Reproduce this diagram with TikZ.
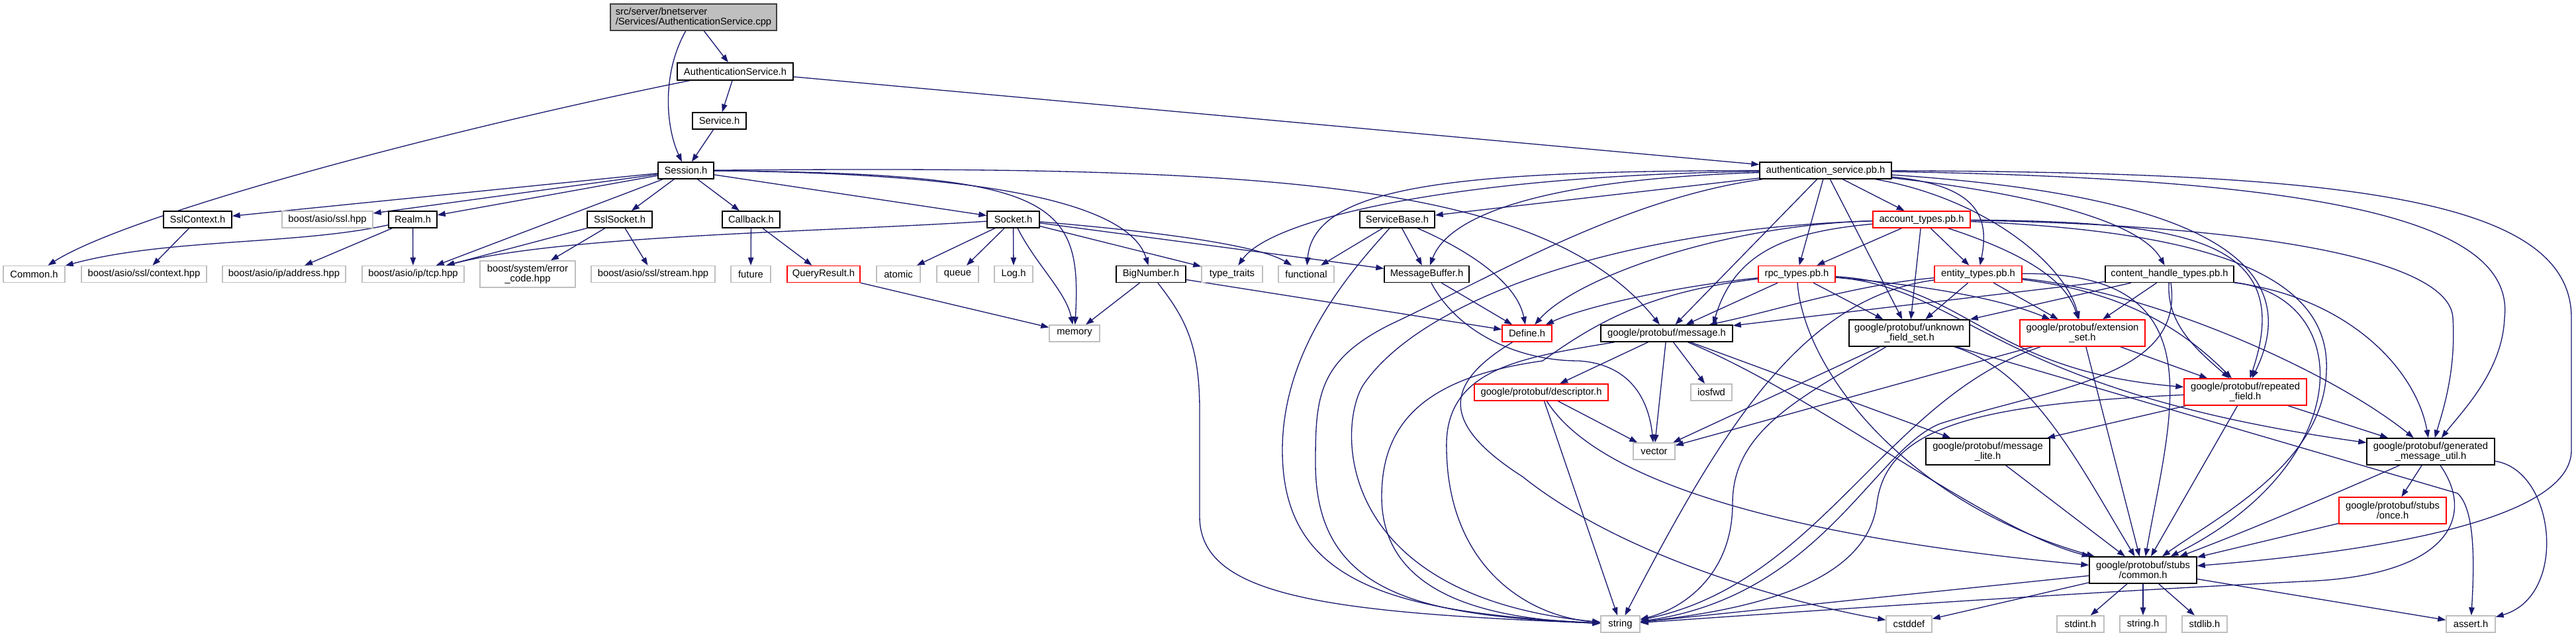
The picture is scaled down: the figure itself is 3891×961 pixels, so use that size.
\documentclass[tikz,border=0pt]{standalone}
\usepackage{fontspec}
\setmainfont{Liberation Sans}
\usetikzlibrary{arrows.meta,calc}
\definecolor{edgec}{HTML}{191970}
\definecolor{grayb}{HTML}{BFBFBF}
\definecolor{rootb}{HTML}{404040}
\newcommand\dxfont{\fontsize{8.4}{8.6}\selectfont}
\pgfdeclarelayer{edgelayer}
\pgfsetlayers{edgelayer,main}
\begin{document}
\begin{tikzpicture}[x=0.02cm,y=-0.02cm,
  box/.style={rectangle,line width=0.8pt,inner sep=0pt,font=\dxfont,align=center,fill=white},
  sz/.style 2 args={minimum width=#1*0.02cm,minimum height=#2*0.02cm},
  nb/.style={box,draw=black},
  nr/.style={box,draw=red},
  ng/.style={box,draw=grayb},
  e/.style={draw=edgec,line width=0.75pt,-{Triangle[length=0.24cm,width=0.17cm]}}]
\useasboundingbox (0,0) rectangle (3891,961);
% ---------- nodes ----------
\node[box,draw=rootb,fill=grayb,align=left,sz={251}{40}] (root) at (1047.5,26) {src/server/bnetserver\\/Services/AuthenticationService.cpp};
\node[nb,sz={175}{26}] (ash) at (1110.5,108) {AuthenticationService.h};
\node[nb,sz={81}{25}] (svc) at (1086.5,182.5) {Service.h};
\node[nb,sz={84}{25}] (ses) at (1036,257.5) {Session.h};
\node[nb,sz={199}{25}] (apb) at (2757.5,257.5) {authentication\_service.pb.h};
\node[nb,sz={103}{25}] (sslctx) at (298.5,331.5) {SslContext.h};
\node[ng,sz={137}{25}] (sslhpp) at (494.5,331.5) {boost/asio/ssl.hpp};
\node[nb,sz={73}{25}] (realm) at (623.5,331.5) {Realm.h};
\node[nb,sz={98}{25}] (sslsock) at (936,331.5) {SslSocket.h};
\node[nb,sz={87}{25}] (cb) at (1134.5,331.5) {Callback.h};
\node[nb,sz={79}{25}] (sock) at (1530.5,331.5) {Socket.h};
\node[nb,sz={113}{25}] (sb) at (2110.5,331.5) {ServiceBase.h};
\node[nr,sz={147}{25}] (acct) at (2902.5,331.5) {account\_types.pb.h};
\node[ng,sz={93}{25}] (common) at (51.5,414) {Common.h};
\node[ng,sz={189}{25}] (ctx) at (217.5,414) {boost/asio/ssl/context.hpp};
\node[ng,sz={186}{25}] (addr) at (429,414) {boost/asio/ip/address.hpp};
\node[ng,sz={154}{25}] (tcp) at (624,414) {boost/asio/ip/tcp.hpp};
\node[ng,sz={144}{40}] (err) at (797,414) {boost/system/error\\\_code.hpp};
\node[ng,sz={187}{25}] (stream) at (986.5,414) {boost/asio/ssl/stream.hpp};
\node[ng,sz={60}{25}] (future) at (1134,414) {future};
\node[nr,sz={110}{25}] (qr) at (1244,414) {QueryResult.h};
\node[ng,sz={66}{25}] (atomic) at (1357,414) {atomic};
\node[ng,sz={63}{25}] (queue) at (1446.5,414) {queue};
\node[ng,sz={58}{25}] (logh) at (1531,414) {Log.h};
\node[nb,sz={105}{25}] (bn) at (1738.5,414) {BigNumber.h};
\node[ng,sz={92}{25}] (tt) at (1861,414) {type\_traits};
\node[ng,sz={84}{25}] (func) at (1973,414) {functional};
\node[nb,sz={128}{25}] (mb) at (2155,414) {MessageBuffer.h};
\node[nr,sz={116}{25}] (rpc) at (2714,414) {rpc\_types.pb.h};
\node[nr,sz={132}{25}] (ent) at (2988,414) {entity\_types.pb.h};
\node[nb,sz={194}{25}] (cht) at (3277,414) {content\_handle\_types.pb.h};
\node[ng,sz={76}{25}] (mem) at (1623,503.5) {memory};
\node[nr,sz={75}{25}] (def) at (2306.5,503.5) {Define.h};
\node[nb,sz={199}{25}] (msg) at (2517.5,503.5) {google/protobuf/message.h};
\node[nb,sz={182}{40}] (ufs) at (2884,503) {google/protobuf/unknown\\\_field\_set.h};
\node[nr,sz={189}{40}] (ext) at (3145.5,503) {google/protobuf/extension\\\_set.h};
\node[nr,sz={202}{25}] (desc) at (2328,592.5) {google/protobuf/descriptor.h};
\node[ng,sz={62}{25}] (iosfwd) at (2585,592.5) {iosfwd};
\node[nr,sz={185}{40}] (rep) at (3391.5,592) {google/protobuf/repeated\\\_field.h};
\node[ng,sz={63}{25}] (vec) at (2498.5,681.5) {vector};
\node[nb,sz={187}{40}] (lite) at (3002.5,682) {google/protobuf/message\\\_lite.h};
\node[nb,sz={193}{40}] (gmu) at (3671.5,682) {google/protobuf/generated\\\_message\_util.h};
\node[nr,sz={162}{40}] (once) at (3614,771) {google/protobuf/stubs\\/once.h};
\node[nb,sz={162}{40}] (com) at (3237,861) {google/protobuf/stubs\\/common.h};
\node[ng,sz={59}{25}] (str) at (2447.5,942.5) {string};
\node[ng,sz={69}{25}] (cstddef) at (2883.5,942.5) {cstddef};
\node[ng,sz={71}{25}] (stdint) at (3142.5,942.5) {stdint.h};
\node[ng,sz={70}{25}] (strh) at (3237,942.5) {string.h};
\node[ng,sz={68}{25}] (stdlib) at (3330,942.5) {stdlib.h};
\node[ng,sz={74}{25}] (assert) at (3732,942.5) {assert.h};
% ---------- edges ----------
\begin{pgfonlayer}{edgelayer}
\fill[white] (0,0) rectangle (3891,961);
\draw[e] (root) -- (ash);
\draw[e] (root) .. controls (1000,110) and (1005,190) .. (ses);
\draw[e] (ash) -- (svc);
\draw[e] (ash) .. controls (700,190) and (200,320) .. (common);
\draw[e] (ash) -- (apb);
\draw[e] (svc) -- (ses);
\draw[e] (ses) -- (sslctx);
\draw[e] (ses) -- (sslhpp);
\draw[e] (ses) -- (realm);
\draw[e] (ses) -- (tcp);
\draw[e] (ses) -- (sslsock);
\draw[e] (ses) -- (cb);
\draw[e] (ses) -- (sock);
\draw[e] (ses) .. controls (1590,262) and (1635,300) .. (mem);
\draw[e] (ses) .. controls (1550,262) and (1710,320) .. (bn);
\draw[e] (ses) .. controls (1900,250) and (2330,270) .. (msg);
\draw[e] (realm) .. controls (450,370) and (250,360) .. (common);
\draw[e] (realm) -- (addr);
\draw[e] (realm) -- (tcp);
\draw[e] (sslctx) -- (ctx);
\draw[e] (sslsock) -- (tcp);
\draw[e] (sslsock) -- (err);
\draw[e] (sslsock) -- (stream);
\draw[e] (cb) -- (future);
\draw[e] (cb) -- (qr);
\draw[e] (qr) -- (mem);
\draw[e] (sock) .. controls (1250,350) and (850,355) .. (tcp);
\draw[e] (sock) -- (atomic);
\draw[e] (sock) -- (queue);
\draw[e] (sock) -- (logh);
\draw[e] (sock) .. controls (1565,400) and (1610,440) .. (mem);
\draw[e] (sock) -- (tt);
\draw[e] (sock) .. controls (1750,350) and (1900,370) .. (func);
\draw[e] (sock) -- (mb);
\draw[e] (bn) -- (mem);
\draw[e] (bn) .. controls (1790,480) and (1812,520) .. (1812,620) -- (1812,780) .. controls (1812,900) and (2000,925) .. (str);
\draw[e] (bn) -- (def);
\draw[e] (sb) -- (func);
\draw[e] (sb) -- (mb);
\draw[e] (sb) .. controls (2050,400) and (1937,520) .. (1937,680) .. controls (1937,880) and (2100,925) .. (str);
\draw[e] (sb) .. controls (2200,370) and (2290,420) .. (def);
\draw[e] (mb) -- (def);
\draw[e] (mb) .. controls (2200,500) and (2290,545) .. (2385,545) .. controls (2460,550) and (2490,600) .. (vec);
\draw[e] (def) .. controls (2180,580) and (2175,640) .. (2300,720) .. controls (2450,840) and (2700,910) .. (cstddef);
% authentication_service.pb.h
\draw[e] (apb) -- (sb);
\draw[e] (apb) .. controls (2200,258) and (1985,280) .. (func);
\draw[e] (apb) .. controls (2200,265) and (1920,330) .. (tt);
\draw[e] (apb) .. controls (2350,270) and (2190,320) .. (mb);
\draw[e] (apb) -- (rpc);
\draw[e] (apb) -- (acct);
\draw[e] (apb) .. controls (2990,280) and (3005,330) .. (ent);
\draw[e] (apb) .. controls (3050,290) and (3230,330) .. (cht);
\draw[e] (apb) -- (msg);
\draw[e] (apb) .. controls (2450,300) and (2250,420) .. (2100,490) .. controls (1990,545) and (1987,600) .. (1987,700) .. controls (1987,900) and (2150,930) .. (str);
\draw[e] (apb) -- (ufs);
\draw[e] (apb) .. controls (3000,300) and (3120,400) .. (ext);
\draw[e] (apb) .. controls (3250,290) and (3500,370) .. (rep);
\draw[e] (apb) .. controls (3500,270) and (3800,330) .. (3783,480) .. controls (3780,560) and (3720,620) .. (gmu);
\draw[e] (apb) .. controls (3550,260) and (3884,300) .. (3884,480) -- (3884,680) .. controls (3884,800) and (3500,840) .. (com);
% account_types.pb.h
\draw[e] (acct) -- (rpc);
\draw[e] (acct) -- (ufs);
\draw[e] (acct) -- (ent);
\draw[e] (acct) .. controls (3050,380) and (3120,420) .. (ext);
\draw[e] (acct) .. controls (2600,340) and (2380,420) .. (def);
\draw[e] (acct) .. controls (2450,345) and (2150,450) .. (2060,580) .. controls (2020,640) and (2010,900) .. (str);
\draw[e] (acct) .. controls (2700,350) and (2620,380) .. ($(msg.north)+(70,0)$);
\draw[e] (acct) .. controls (3300,335) and (3470,360) .. (rep);
\draw[e] (acct) .. controls (3400,340) and (3700,390) .. (3705,480) .. controls (3710,560) and (3690,620) .. (gmu);
\draw[e] (acct) .. controls (3350,350) and (3520,420) .. (3514,560) .. controls (3510,700) and (3350,780) .. (com);
% rpc_types.pb.h
\draw[e] (rpc) .. controls (2550,430) and (2400,460) .. (def);
\draw[e] (rpc) .. controls (2500,440) and (2420,480) .. (2330,545) .. controls (2150,570) and (2087,640) .. (2087,750) .. controls (2087,900) and (2250,935) .. (str);
\draw[e] (rpc) -- (msg);
\draw[e] (rpc) -- (ufs);
\draw[e] (rpc) .. controls (2900,430) and (3020,450) .. (ext);
\draw[e] (rpc) .. controls (2975,430) and (3000,560) .. (rep);
\draw[e] (rpc) .. controls (2970,435) and (3010,590) .. (gmu);
\draw[e] (rpc) .. controls (2725,560) and (2880,760) .. (com);
% entity_types.pb.h
\draw[e] (ent) .. controls (2800,430) and (2680,470) .. (msg);
\draw[e] (ent) -- (ufs);
\draw[e] (ent) -- (ext);
\draw[e] (ent) .. controls (2720,450) and (2600,650) .. (str);
\draw[e] (ent) .. controls (3200,440) and (3290,490) .. (rep);
\draw[e] (ent) .. controls (3250,440) and (3520,560) .. (gmu);
\draw[e] (ent) .. controls (3350,410) and (3280,620) .. (com);
% content_handle_types.pb.h
\draw[e] (cht) -- (msg);
\draw[e] (cht) -- (ufs);
\draw[e] (cht) -- (ext);
\draw[e] (cht) .. controls (3272,490) and (3320,530) .. (rep);
\draw[e] (cht) .. controls (3550,450) and (3650,560) .. (gmu);
\draw[e] (cht) .. controls (3560,450) and (3560,700) .. (com);
\draw[e] (cht) .. controls (3300,570) and (3100,585) .. (2930,640) .. controls (2830,680) and (2750,900) .. (str);
% google/protobuf/message.h
\draw[e] (msg) -- (desc);
\draw[e] (msg) -- (iosfwd);
\draw[e] (msg) -- (vec);
\draw[e] (msg) -- (lite);
\draw[e] (msg) .. controls (2750,600) and (3000,800) .. (com);
\draw[e] (msg) .. controls (2300,540) and (2180,555) .. (2185,680) .. controls (2188,850) and (2300,930) .. (str);
% descriptor.h
\draw[e] (desc) -- (vec);
\draw[e] (desc) -- (str);
\draw[e] (desc) .. controls (2440,770) and (2900,830) .. (com);
% unknown_field_set.h
\draw[e] (ufs) -- (vec);
\draw[e] (ufs) .. controls (2720,600) and (2617,650) .. (2617,760) .. controls (2617,870) and (2540,920) .. (str);
\draw[e] (ufs) .. controls (3070,560) and (3140,700) .. (com);
\draw[e] (ufs) -- (3712,745) .. controls (3740,770) and (3737,860) .. (assert);
% extension_set.h
\draw[e] (ext) -- (rep);
\draw[e] (ext) -- (com);
\draw[e] (ext) -- (vec);
\draw[e] (ext) .. controls (2850,600) and (2750,880) .. (str);
% repeated_field.h
\draw[e] (rep) -- (gmu);
\draw[e] (rep) -- (com);
\draw[e] (rep) -- (lite);
\draw[e] (rep) .. controls (3000,610) and (2850,640) .. (2835,760) .. controls (2820,880) and (2650,920) .. (str);
% generated_message_util.h
\draw[e] (gmu) -- (once);
\draw[e] (gmu) .. controls (3540,740) and (3400,800) .. (com);
\draw[e] (gmu) .. controls (3860,710) and (3880,900) .. (assert);
\draw[e] (gmu) .. controls (3740,780) and (3700,870) .. (3480,878) .. controls (3100,897) and (2700,925) .. (str);
% once / lite
\draw[e] (once) -- (com);
\draw[e] (lite) -- (com);
% stubs/common.h
\draw[e] (com) -- (str);
\draw[e] (com) -- (cstddef);
\draw[e] (com) -- (stdint);
\draw[e] (com) -- (strh);
\draw[e] (com) -- (stdlib);
\draw[e] (com) -- (assert);
\end{pgfonlayer}
\end{tikzpicture}
\end{document}
